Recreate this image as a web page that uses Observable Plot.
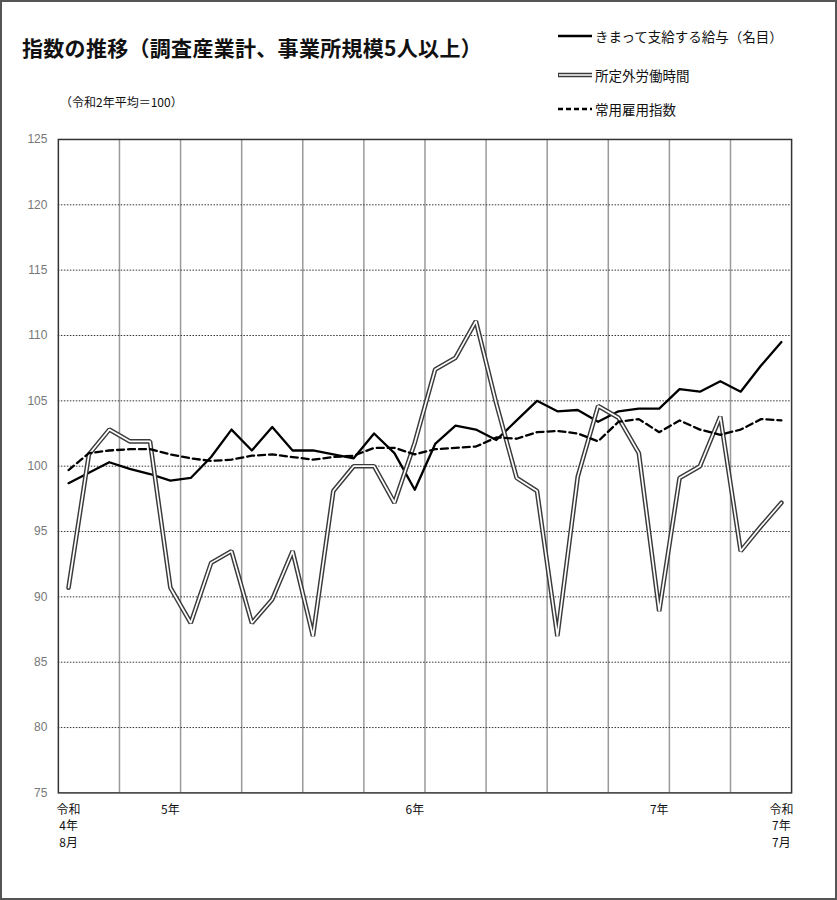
<!DOCTYPE html>
<html>
<head>
<meta charset="utf-8">
<script src="https://cdn.jsdelivr.net/npm/d3@7"></script>
<script src="https://cdn.jsdelivr.net/npm/@observablehq/plot@0.6"></script>
<style>
  html, body { margin: 0; padding: 0; background: #fff; }
  #wrap { position: relative; width: 837px; height: 900px; box-sizing: border-box; border: 2px solid #555; overflow: hidden; font-family: "Noto Sans CJK JP", "Noto Sans", sans-serif; color: #111; }
  #title { position: absolute; left: 20px; top: 35px; font-size: 21px; font-weight: 700; line-height: 1; white-space: nowrap; letter-spacing: 0.3px; }
  #subtitle { position: absolute; left: 58px; top: 94px; font-size: 12px; line-height: 1; white-space: nowrap; }
  .leg { position: absolute; left: 556px; display: flex; align-items: center; height: 20px; font-size: 13.5px; white-space: nowrap; }
  .leg svg { margin-right: 3px; }
  #chart { position: absolute; left: -2px; top: 123px; }
</style>
</head>
<body>
<div id="wrap">
  <div id="title">指数の推移（調査産業計、事業所規模5人以上）</div>
  <div id="subtitle">（令和2年平均＝100）</div>
  <div id="legend"></div>
  <div id="chart"></div>
</div>
<script>
// ---- data ----
const seriesNames = ["きまって支給する給与（名目）", "所定外労働時間", "常用雇用指数"];
// monthly values, 令和4年8月 … 令和7年7月 (36 months)
const wage = [98.7, 99.5, 100.3, 99.8, 99.4, 98.9, 99.1, 100.7, 102.8, 101.2, 103.0, 101.2,
              101.2, 100.9, 100.6, 102.5, 101.0, 98.2, 101.7, 103.1, 102.8, 102.0, 103.5, 105.0,
              104.2, 104.3, 103.4, 104.2, 104.4, 104.4, 105.9, 105.7, 106.5, 105.7, 107.7, 109.5];
const overtime = [90.7, 100.9, 102.8, 101.9, 101.9, 90.7, 88.0, 92.6, 93.5, 88.0, 89.8, 93.5,
                  87.0, 98.1, 100.0, 100.0, 97.2, 101.8, 107.4, 108.3, 111.1, 104.8, 99.1, 98.1,
                  87.0, 99.2, 104.6, 103.7, 101.0, 88.9, 99.1, 100.0, 103.8, 93.5, 95.4, 97.2];
const employment = [99.7, 101.0, 101.2, 101.3, 101.3, 100.9, 100.6, 100.4, 100.5, 100.8, 100.9, 100.7,
                    100.5, 100.7, 100.8, 101.4, 101.4, 100.9, 101.3, 101.4, 101.5, 102.2, 102.1, 102.6,
                    102.7, 102.5, 101.9, 103.4, 103.6, 102.6, 103.5, 102.8, 102.4, 102.8, 103.6, 103.5];
const xTickIndex = [0, 5, 17, 29, 35];
const xTickLabels = ["令和\n4年\n8月", "5年", "6年", "7年", "令和\n7年\n7月"];
const yTicks = [75, 80, 85, 90, 95, 100, 105, 110, 115, 120, 125];

// ---- build tables ----
const toRows = arr => arr.map((v, i) => ({i, v}));
const wageRows = toRows(wage), otRows = toRows(overtime), empRows = toRows(employment);
const tickRows = xTickIndex.map((i, k) => ({i, label: xTickLabels[k]}));
const nMonths = wage.length;
const vGrid = d3.range(2.5, nMonths - 0.5, 3);
const hGrid = yTicks.slice(1, -1);

const chart = Plot.plot({
  width: 837,
  height: 775,
  marginTop: 14,
  marginBottom: 106,
  marginLeft: 58,
  marginRight: 44,
  x: {domain: [-0.5, nMonths - 0.5], axis: null},
  y: {domain: [75, 125], axis: null},
  style: {fontFamily: "'Noto Sans CJK JP', sans-serif", background: "transparent"},
  marks: [
    Plot.ruleX(vGrid, {stroke: "#9a9a9a", strokeWidth: 1.5}),
    Plot.ruleY(hGrid, {stroke: "#333", strokeWidth: 1, strokeDasharray: "1.5,1.5"}),
    Plot.frame({stroke: "#333", strokeWidth: 1.5}),
    Plot.axisY(yTicks, {label: null, tickSize: 0, tickPadding: 11, fontSize: 12, fill: "#777", fontFamily: "'Liberation Sans', Arial, sans-serif"}),
    Plot.text(tickRows, {x: "i", y: 75, text: "label", dy: 9, lineAnchor: "top", lineHeight: 1.38, fontSize: 12, fill: "#111"}),
    Plot.line(wageRows, {x: "i", y: "v", stroke: "#000", strokeWidth: 2.3}),
    Plot.line(otRows, {x: "i", y: "v", stroke: "#3a3a3a", strokeWidth: 4.6, strokeLinejoin: "miter"}),
    Plot.line(otRows, {x: "i", y: "v", stroke: "#fff", strokeWidth: 1.7, strokeLinejoin: "miter"}),
    Plot.line(empRows, {x: "i", y: "v", stroke: "#000", strokeWidth: 2.3, strokeDasharray: "7,4"})
  ]
});
document.getElementById("chart").appendChild(chart);

// ---- legend ----
const legendTops = [24, 63, 97];
const samples = [
  '<svg width="34" height="8"><line x1="0" y1="4" x2="34" y2="4" stroke="#000" stroke-width="2.5"/></svg>',
  '<svg width="34" height="8"><line x1="0" y1="4" x2="34" y2="4" stroke="#3a3a3a" stroke-width="4.6"/><line x1="1" y1="4" x2="34" y2="4" stroke="#fff" stroke-width="1.7"/></svg>',
  '<svg width="34" height="8"><line x1="0" y1="4" x2="34" y2="4" stroke="#000" stroke-width="2.5" stroke-dasharray="5,3"/></svg>'
];
const legend = document.getElementById("legend");
seriesNames.forEach((name, k) => {
  const d = document.createElement("div");
  d.className = "leg";
  d.style.top = legendTops[k] + "px";
  d.innerHTML = samples[k] + "<span>" + name + "</span>";
  legend.appendChild(d);
});
</script>
</body>
</html>
